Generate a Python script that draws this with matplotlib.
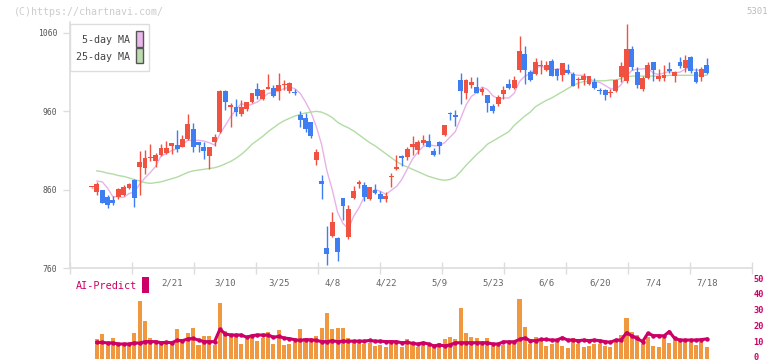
import numpy as np
import matplotlib
matplotlib.use("Agg")
import matplotlib.pyplot as plt
from matplotlib.patches import Rectangle
import matplotlib.transforms as mtransforms

plt.rcParams['font.family'] = ['DejaVu Sans Mono']

# --- datos ---
opens = [863, 857, 860, 850, 847, 851, 853, 862, 872, 889, 888, 900, 897, 904, 907, 916, 917, 915, 925, 938,
         921, 914, 903, 921, 933, 986, 966, 965, 957, 963, 972, 988, 976, 988, 990, 986, 993, 986, 985, 955,
         951, 946, 898, 871, 786, 801, 798, 849, 800, 849, 867, 866, 848, 860, 854, 848, 876, 886, 903, 902,
         914, 911, 920, 922, 909, 921, 930, 958, 955, 1000, 984, 994, 991, 985, 981, 967, 969, 982, 995, 990,
         1013, 1033, 1010, 1008, 1018, 1013, 1024, 1014, 1006, 1013, 1008, 1000, 1000, 995, 997, 987, 987, 984, 986, 1004,
         999, 1040, 1010, 988, 1003, 1023, 1001, 1003, 1014, 1005, 1023, 1015, 1029, 1010, 1004, 1019]
highs = [864, 870, 860, 853, 852, 862, 866, 868, 873, 910, 911, 918, 907, 918, 922, 920, 936, 930, 957, 945,
         921, 921, 915, 931, 987, 987, 970, 976, 974, 972, 984, 996, 988, 1008, 994, 1009, 1000, 997, 989, 960,
         958, 946, 912, 879, 814, 831, 799, 850, 840, 865, 872, 870, 864, 867, 858, 857, 881, 904, 904, 915,
         928, 923, 930, 931, 913, 922, 943, 959, 962, 1009, 1001, 1004, 1004, 991, 981, 969, 981, 992, 1001, 1005,
         1056, 1043, 1013, 1028, 1025, 1024, 1027, 1015, 1022, 1020, 1010, 1004, 1009, 1005, 1003, 990, 988, 988, 1001, 1023,
         1071, 1043, 1017, 1005, 1023, 1023, 1014, 1019, 1023, 1011, 1029, 1032, 1030, 1015, 1017, 1028]
lows = [862, 853, 843, 837, 840, 848, 852, 861, 838, 853, 880, 897, 889, 903, 906, 906, 908, 914, 924, 908,
        908, 899, 886, 916, 932, 962, 940, 954, 954, 961, 971, 976, 975, 988, 978, 975, 987, 984, 981, 940,
        934, 926, 891, 848, 764, 800, 769, 821, 797, 848, 862, 845, 847, 855, 844, 844, 863, 885, 890, 898,
        904, 905, 917, 914, 903, 905, 929, 949, 941, 969, 976, 990, 983, 981, 959, 958, 967, 976, 989, 988,
        1010, 995, 999, 1006, 1008, 1012, 1005, 1000, 999, 1008, 992, 990, 994, 994, 989, 982, 974, 978, 985, 998,
        996, 1013, 990, 986, 1001, 999, 999, 999, 1009, 997, 1015, 1010, 1009, 996, 999, 1008]
closes = [863, 867, 843, 840, 843, 861, 864, 867, 849, 895, 900, 901, 904, 913, 913, 920, 912, 925, 944, 915,
          917, 910, 914, 927, 986, 972, 968, 959, 965, 972, 983, 980, 987, 991, 979, 994, 994, 996, 983, 949,
          938, 929, 908, 867, 778, 819, 781, 839, 835, 858, 870, 851, 863, 856, 848, 852, 876, 889, 900, 912,
          918, 921, 923, 914, 904, 916, 943, 956, 953, 986, 1000, 998, 984, 988, 970, 960, 978, 987, 990, 1000,
          1037, 1013, 1000, 1023, 1018, 1019, 1005, 1005, 1022, 1009, 992, 1000, 1005, 1005, 990, 986, 981, 985, 1000, 1018,
          1040, 1017, 994, 1003, 1019, 1013, 1005, 1006, 1011, 1010, 1018, 1025, 1011, 997, 1014, 1009]

ma5 = [np.nan, 871, 870, 862, 851, 851, 850, 855, 857, 867, 875, 882, 890, 903, 906, 910, 912, 917, 923, 923,
       923, 922, 920, 917, 931, 942, 953, 962, 970, 967, 969, 972, 977, 983, 984, 986, 989, 991, 989, 983,
       972, 959, 941, 918, 884, 860, 831, 817, 810, 826, 837, 851, 855, 860, 858, 854, 859, 864, 873, 886,
       899, 908, 915, 918, 916, 916, 920, 927, 934, 951, 968, 979, 984, 991, 988, 980, 976, 977, 977, 983,
       998, 1005, 1008, 1015, 1018, 1015, 1013, 1014, 1014, 1012, 1007, 1006, 1006, 1002, 998, 997, 993, 989, 988, 994,
       1005, 1012, 1014, 1014, 1015, 1009, 1007, 1009, 1011, 1009, 1010, 1014, 1015, 1012, 1013, 1011]
ma25 = [np.nan, 884, 883, 881, 880, 878, 877, 875, 873, 871, 869, 868, 869, 870, 872, 874, 876, 879, 882, 884,
        885, 886, 887, 888, 890, 893, 896, 900, 905, 911, 918, 923, 928, 934, 939, 944, 948, 951, 954, 956,
        958, 959, 960, 959, 956, 952, 946, 942, 939, 935, 930, 925, 920, 916, 911, 906, 901, 896, 892, 889,
        886, 883, 880, 877, 875, 873, 872, 873, 876, 883, 891, 898, 905, 911, 918, 922, 926, 930, 934, 942,
        948, 954, 959, 966, 970, 974, 977, 981, 985, 989, 993, 996, 998, 998, 999, 999, 999, 1000, 1000, 1002,
        1004, 1005, 1005, 1005, 1005, 1005, 1005, 1005, 1006, 1006, 1006, 1006, 1006, 1006, 1006, 1006]

# volumen y AI-Predict (desde la segunda vela)
volumen = [12.7, 15.8, 10.8, 13.3, 9.5, 9.5, 9.5, 16.5, 36.7, 24, 13.3, 10.8, 9.5, 10.8, 10.8, 19, 12, 16.5, 19.6, 8.9,
           14.6, 14.6, 8.9, 35.4, 17.7, 14.6, 14.6, 9.5, 12.7, 13.3, 11.4, 13.3, 17, 9.5, 18.4, 8.9, 9.5, 10.8, 19, 13.3,
           12, 14.6, 19.6, 29, 19, 19.6, 19.6, 13.3, 10.8, 10.8, 9.5, 10, 8.2, 8.9, 7.6, 10.8, 10.8, 7.6, 12.7, 9.5,
           7.6, 9.5, 8.2, 7.6, 10.1, 12.7, 13.9, 12.7, 32.3, 16.5, 13.9, 13.3, 9.5, 13.3, 8.2, 8.2, 8.9, 10.8, 11.4, 38,
           20.3, 9.5, 13.9, 12, 8.2, 9.5, 12, 8.2, 7, 13.3, 9.5, 7.6, 8.2, 9.5, 9.5, 8.2, 7.6, 11.4, 15.2, 26,
           17.1, 15.2, 9.5, 13.9, 8.2, 7.6, 13.3, 10.1, 12, 11.4, 11.4, 10.8, 8.9, 10.8, 7.6]
ai_predict = [10.5, 10.5, 10.2, 10.2, 9.5, 9.5, 9.5, 10.2, 10, 11, 11, 11, 10.3, 10.6, 10.3, 11.8, 11.6, 12.7, 13, 12,
              11, 11, 11, 18.8, 15.9, 15.2, 15.2, 15.2, 13.8, 14.8, 15.2, 15.2, 15.2, 13.8, 14.3, 13.3, 12.9, 12.2, 11.8, 12.2,
              12.2, 11.8, 11, 11, 11.6, 11, 11.3, 11.3, 11.3, 11.3, 11.3, 11.8, 11.3, 11.3, 11, 11, 11, 10.3, 10.6, 9.9,
              9.5, 10.3, 9.5, 8.3, 8.9, 8.3, 8.9, 10.3, 10.3, 10.3, 10.3, 10.3, 10.3, 10.3, 9.5, 9.5, 10.9, 10.9, 10.9, 12.4,
              13.3, 11.6, 11.6, 12.4, 12.4, 12, 12, 13.5, 12, 12, 11.6, 12, 11.6, 12, 11.6, 11, 10.6, 12, 12, 16.7,
              14.6, 13, 11, 16.3, 14.8, 14.8, 14.6, 17.4, 13, 12, 12, 12, 12, 12.3, 12.7]

fechas = ['2/21', '3/10', '3/25', '4/8', '4/22', '5/9', '5/23', '6/6', '6/20', '7/4', '7/18']
fechas_idx = [15, 25, 35, 45, 55, 65, 75, 85, 95, 105, 115]

ROJO = '#f15140'
AZUL = '#3f7ef0'
GRIS_EJE = '#dddddd'
MAGENTA = '#cc0066'

W, H = 772, 361
fig = plt.figure(figsize=(W / 100, H / 100), dpi=100)

# conversion pixel -> datos
PASO = 5.35
X0 = 91.5
xlim = ((70 - X0) / PASO, (752 - X0) / PASO)
px_val = 235 / 300.0
ylim = (760, 760 + (268 - 22) / px_val)

ax = fig.add_axes([70 / W, (H - 268) / H, 682 / W, 246 / H])
ax.set_xlim(*xlim)
ax.set_ylim(*ylim)

x = np.arange(len(closes))
o = np.array(opens, float)
c = np.array(closes, float)
colores = [ROJO if cc >= oo else AZUL for oo, cc in zip(o, c)]

ax.vlines(x, lows, highs, colors=colores, linewidth=1.0, zorder=3)
base = np.minimum(o, c)
alto = np.maximum(np.abs(c - o), 1.3)
ax.bar(x, alto, bottom=base, width=0.9, color=colores, zorder=4, linewidth=0)

ax.plot(x, ma5, color='#e8b2e8', linewidth=1.0, zorder=2)
ax.plot(x, ma25, color='#b2dca4', linewidth=1.0, zorder=2)

for s in ['top', 'right']:
    ax.spines[s].set_visible(False)
for s in ['left', 'bottom']:
    ax.spines[s].set_color(GRIS_EJE)
    ax.spines[s].set_linewidth(1.2)

ax.set_yticks([760, 860, 960, 1060])
ax.tick_params(axis='y', direction='out', length=5, width=1, color=GRIS_EJE,
               labelsize=5.8, labelcolor='#555555', pad=4)
ax.set_xticks(np.linspace(xlim[0], xlim[1], 12))
ax.set_xticklabels([])
ax.tick_params(axis='x', direction='inout', length=8, width=1, color=GRIS_EJE)

# volumen
axv = fig.add_axes([70 / W, (H - 359) / H, 682 / W, 79 / H])
axv.set_xlim(*xlim)
axv.set_ylim(0, 50)
xv = x[1:]
axv.bar(xv, volumen, width=0.75, color='#f09840', linewidth=0, zorder=2)
axv.plot(xv, ai_predict, color=MAGENTA, linewidth=2.2, marker='o', markersize=2.2, zorder=3)
for s in axv.spines.values():
    s.set_visible(False)
axv.set_xticks([])
axv.yaxis.tick_right()
axv.set_yticks([0, 10, 20, 30, 40, 50])
axv.tick_params(axis='y', length=0, pad=1, labelsize=6.2, labelcolor=MAGENTA)
subir = mtransforms.ScaledTranslation(0, 2.0 / 100, fig.dpi_scale_trans)
for t in axv.get_yticklabels():
    t.set_fontweight('bold')
    t.set_transform(t.get_transform() + subir)

trans = mtransforms.blended_transform_factory(axv.transData, axv.transAxes)
for f, i in zip(fechas, fechas_idx):
    axv.text(i, (359 - 282.5) / 79, f, transform=trans, ha='center', va='center',
             fontsize=6.5, color='#666666')

# textos de figura
fig.text(76 / W, 1 - 286 / H, 'AI-Predict', color=MAGENTA, fontsize=7.3, va='center', ha='left')
fig.patches.append(Rectangle((142 / W, 1 - 293 / H), 7 / W, 16 / H, transform=fig.transFigure,
                             facecolor=MAGENTA, edgecolor='none'))
fig.text(14 / W, 1 - 12 / H, '(C)https://chartnavi.com/', color='#cccccc', fontsize=7.2, va='center')
fig.text(768 / W, 1 - 12 / H, '5301', color='#bbbbbb', fontsize=6.5, va='center', ha='right')

# leyenda
fig.patches.append(Rectangle((70 / W, 1 - 71.3 / H), 78.7 / W, 47.3 / H, transform=fig.transFigure,
                             facecolor='white', edgecolor=GRIS_EJE, linewidth=1, zorder=5))
fig.patches.append(Rectangle((136 / W, 1 - 46.5 / H), 6.7 / W, 15.5 / H, transform=fig.transFigure,
                             facecolor='#ebb8eb', edgecolor='#555555', linewidth=1, zorder=6))
fig.patches.append(Rectangle((136 / W, 1 - 63.3 / H), 6.7 / W, 15.3 / H, transform=fig.transFigure,
                             facecolor='#bcdcb0', edgecolor='#555555', linewidth=1, zorder=6))
fig.text(129.5 / W, 1 - 40 / H, '5-day MA', fontsize=7.2, color='#444444', ha='right', va='center', zorder=7)
fig.text(129.5 / W, 1 - 57 / H, '25-day MA', fontsize=7.2, color='#444444', ha='right', va='center', zorder=7)

fig.savefig('out.png', dpi=100, facecolor='white')
